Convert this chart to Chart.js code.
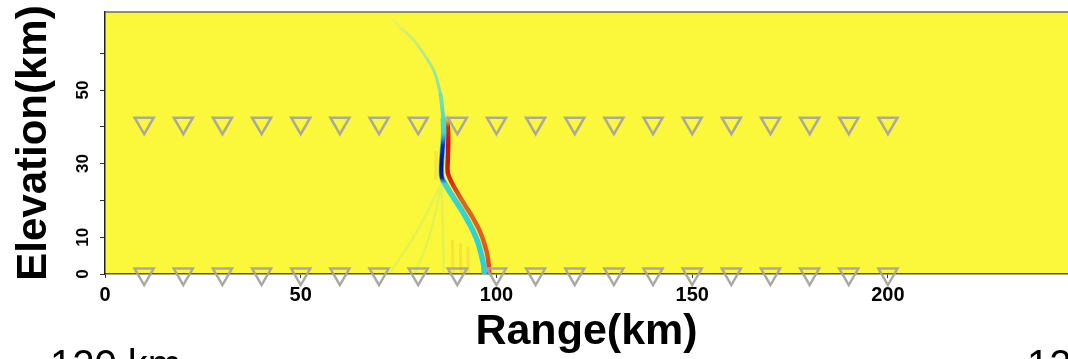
<!DOCTYPE html>
<html lang="en">
<head>
    <meta charset="UTF-8">
    <title>Wavefront section</title>
    <style>
        html, body {margin: 0; padding: 0; background: #fff;}
        #wave {display: block;}
    </style>
</head>
<body>
    <canvas id="wave" width="1068" height="359"></canvas>

    <script src="https://cdn.jsdelivr.net/npm/chart.js@4.4.1/dist/chart.umd.min.js"></script>
    <script>

// axis ticks
const rangeTicks = [0, 50, 100, 150, 200];
const elevTicks = [0, 10, 20, 30, 40, 50, 60];
const elevLabels = [0, 10, 30, 50];

// receiver lines (km)
const receiverRange = [10, 20, 30, 40, 50, 60, 70, 80, 90, 100, 110, 120, 130, 140, 150, 160, 170, 180, 190, 200];
const upperElev = 41;
const groundElev = 0;

// main negative (cyan / blue) front
const frontRange = [73.5, 76.0, 78.7, 81.0, 82.9, 84.2, 85.0, 85.7, 86.1, 86.4, 86.5, 86.3, 86.0, 85.9, 86.0, 86.3, 88.4, 90.6, 92.4, 94.0, 95.3, 96.1, 96.7, 96.9];
const frontElev = [69.0, 66.5, 63.8, 60.5, 57.4, 54.8, 52.0, 48.8, 45.6, 42.0, 38.3, 35.0, 31.0, 28.0, 26.5, 25.5, 21.8, 18.2, 15.0, 11.8, 8.5, 5.4, 2.5, 0.0];

// positive (red) front
const redRange = [87.3, 87.6, 87.7, 87.6, 87.5, 87.7, 88.6, 90.2, 91.8, 93.9, 95.7, 97.0, 97.8, 98.2];
const redElev = [43.5, 40.0, 36.0, 32.0, 28.5, 27.0, 24.8, 21.8, 19.0, 15.4, 11.8, 8.0, 4.5, 0.0];

// weak branches below the kink
const fanRange = [86.0, 84.3, 82.0, 79.0, null, 86.0, 86.2, 86.4, 86.5, null, 85.6, 81.5, 77.0, 72.5];
const fanElev = [25.0, 16.0, 7.5, 0.0, null, 25.0, 16.0, 8.0, 0.0, null, 24.0, 15.0, 7.0, 0.0];
const streakRange = [88.8, 88.9, null, 90.8, 90.9, null, 92.7, 92.8, null, 84.6, 84.5];
const streakElev = [9.0, 0.0, null, 8.0, 0.0, null, 7.0, 0.0, null, 33.0, 26.0];

const X_MAX = 246;
const Y_MAX = 71.2;

function toPoints(xs, ys) {
    return xs.map((x, i) => ({x: x, y: ys[i]}));
}

// vertical colour ramp along elevation
function elevGradient(stops) {
    return function(context) {
        const chart = context.chart;
        const y = chart.scales.y;
        if (!chart.chartArea || !y) return stops[0][1];
        const y0 = y.getPixelForValue(0), y1 = y.getPixelForValue(Y_MAX);
        if (!isFinite(y0) || !isFinite(y1) || y0 === y1) return stops[0][1];
        const g = chart.ctx.createLinearGradient(0, y0, 0, y1);
        stops.forEach(s => g.addColorStop(Math.min(1, Math.max(0, s[0] / Y_MAX)), s[1]));
        return g;
    };
}

const cyanStops = [
    [0, 'rgb(45,205,220)'], [10, 'rgb(50,208,215)'], [24, 'rgb(60,214,205)'],
    [40, 'rgb(70,215,200)'], [48, 'rgba(100,220,195,0.85)'], [58, 'rgba(130,222,185,0.65)'],
    [66, 'rgba(160,228,175,0.4)'], [71, 'rgba(200,235,150,0.1)']
];
const blueStops = [
    [24.5, 'rgba(20,40,190,0)'], [26.2, 'rgba(15,30,170,1)'], [30, 'rgba(8,18,145,1)'],
    [35, 'rgba(15,40,190,0.95)'], [38.5, 'rgba(40,90,220,0)']
];
const redStops = [
    [0, 'rgb(232,60,20)'], [5, 'rgb(228,88,25)'], [20, 'rgb(226,100,30)'], [27, 'rgb(210,30,15)'],
    [35, 'rgb(200,20,10)'], [40, 'rgb(215,40,20)'], [42, 'rgba(230,120,30,0.5)'], [44, 'rgba(240,200,50,0)']
];

const plotFrame = {
    id: 'plotFrame',
    beforeDraw(chart) {
        const {ctx, chartArea: a} = chart;
        ctx.save();
        ctx.fillStyle = '#fbf83c';
        ctx.fillRect(a.left, a.top, a.right - a.left, a.bottom - a.top);
        ctx.restore();
    },
    afterDraw(chart) {
        const {ctx, chartArea: a} = chart;
        ctx.save();
        ctx.strokeStyle = '#6b6b5a';
        ctx.lineWidth = 1.5;
        ctx.beginPath();
        ctx.moveTo(a.left, a.top);
        ctx.lineTo(a.right, a.top);
        ctx.stroke();
        // caption of the panel below, cut by the frame
        ctx.fillStyle = '#000';
        ctx.font = '40px "Liberation Sans", Arial, sans-serif';
        ctx.textBaseline = 'alphabetic';
        ctx.fillText('120 km', 50, 378);
        ctx.fillText('120 km', 1027, 378);
        ctx.restore();
    }
};

Chart.defaults.font.family = '"Liberation Sans", Arial, sans-serif';
Chart.defaults.color = '#000';

const lineBase = {type: 'line', pointRadius: 0, fill: false, tension: 0.3, spanGaps: false, borderCapStyle: 'round'};

// thinner towards the top of the arc
const frontWidth = ctx => {
    const e = ctx.p0.parsed.y;
    return e > 50 ? 3 : e > 42 ? 4 : 5.5;
};

// datasets listed top layer first
new Chart(document.getElementById('wave'), {
    data: {
        datasets: [
            {
                type: 'scatter',
                data: receiverRange.map(x => ({x: x, y: upperElev}))
                    .concat(receiverRange.map(x => ({x: x, y: groundElev}))),
                pointStyle: 'triangle',
                rotation: 180,
                pointRadius: 11,
                borderColor: 'rgba(165,165,160,0.95)',
                backgroundColor: 'rgba(0,0,0,0)',
                borderWidth: 2.5,
                clip: false
            },
            Object.assign({}, lineBase, {
                data: toPoints(frontRange, frontElev),
                borderColor: elevGradient(blueStops), borderWidth: 4
            }),
            Object.assign({}, lineBase, {
                data: toPoints(frontRange, frontElev),
                borderColor: elevGradient(cyanStops), borderWidth: 5.5,
                segment: {borderWidth: frontWidth}
            }),
            Object.assign({}, lineBase, {
                data: toPoints(redRange, redElev),
                borderColor: elevGradient(redStops), borderWidth: 4.5
            }),
            Object.assign({}, lineBase, {
                data: toPoints(streakRange, streakElev),
                borderColor: 'rgba(240,160,60,0.25)', borderWidth: 3
            }),
            Object.assign({}, lineBase, {
                data: toPoints(fanRange, fanElev),
                borderColor: 'rgba(130,215,180,0.18)', borderWidth: 2.5
            })
        ]
    },
    options: {
        responsive: false,
        animation: false,
        events: [],
        layout: {autoPadding: false, padding: {top: 12, right: 0, left: 0, bottom: 0}},
        plugins: {legend: {display: false}, tooltip: {enabled: false}},
        scales: {
            x: {
                type: 'linear',
                min: 0,
                max: X_MAX,
                afterFit: s => { s.height = 85; s.paddingLeft = 0; s.paddingRight = 0; },
                afterBuildTicks: s => { s.ticks = rangeTicks.map(v => ({value: v})); },
                border: {display: true, color: '#55553c', width: 1.5},
                grid: {display: true, drawOnChartArea: false, drawTicks: true, tickLength: 4, color: '#333'},
                ticks: {
                    padding: 5,
                    maxRotation: 0,
                    font: {size: 20, weight: 'bold'},
                    color: '#000'
                },
                title: {
                    display: true,
                    text: 'Range(km)',
                    font: {size: 43, weight: 'bold', lineHeight: 1},
                    padding: {top: 0, bottom: 5},
                    color: '#000'
                }
            },
            y: {
                type: 'linear',
                min: 0,
                max: Y_MAX,
                afterFit: s => { s.width = 105; s.paddingTop = 0; s.paddingBottom = 0; },
                afterBuildTicks: s => { s.ticks = elevTicks.map(v => ({value: v})); },
                border: {display: true, color: '#222', width: 1.5},
                grid: {display: true, drawOnChartArea: false, drawTicks: true, tickLength: 5, color: '#333'},
                ticks: {
                    padding: 7,
                    minRotation: 90,
                    maxRotation: 90,
                    crossAlign: 'center',
                    font: {size: 17, weight: 'bold'},
                    color: '#000',
                    callback: v => elevLabels.includes(v) ? String(v) : ''
                },
                title: {
                    display: true,
                    text: 'Elevation(km)',
                    font: {size: 42, weight: 'bold', lineHeight: 1},
                    padding: {top: 13, bottom: 0},
                    color: '#000'
                }
            }
        }
    },
    plugins: [plotFrame]
});
    </script>
</body>
</html>
